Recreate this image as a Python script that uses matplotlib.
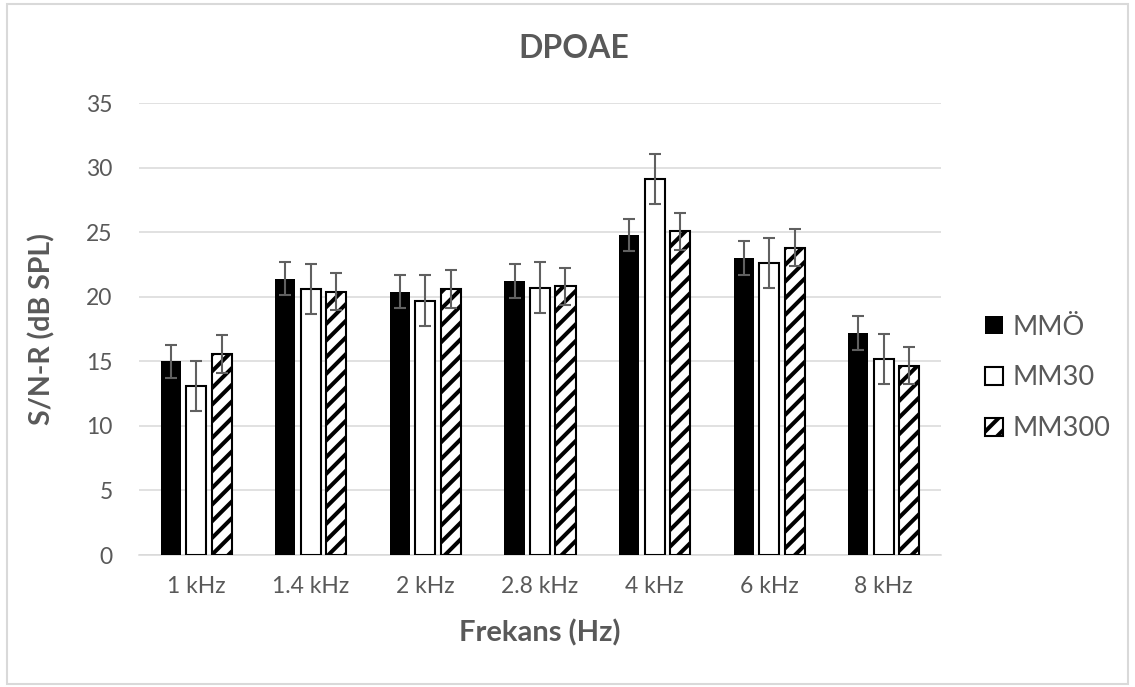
import numpy as np
import matplotlib
matplotlib.use('Agg')
import matplotlib.pyplot as plt
from matplotlib.patches import Rectangle

# --- data
freqs = ['1 kHz', '1.4 kHz', '2 kHz', '2.8 kHz', '4 kHz', '6 kHz', '8 kHz']
mmo = [15.0, 21.4, 20.4, 21.2, 24.8, 23.0, 17.2]
mmo_err = [1.27, 1.3, 1.25, 1.3, 1.25, 1.3, 1.3]
mm30 = [13.1, 20.6, 19.7, 20.7, 29.1, 22.6, 15.2]
mm30_err = [1.95, 1.95, 1.96, 1.95, 1.95, 1.94, 1.94]
mm300 = [15.55, 20.4, 20.6, 20.8, 25.05, 23.8, 14.65]
mm300_err = [1.45, 1.45, 1.5, 1.45, 1.45, 1.43, 1.42]

txt = '#595959'
grid = '#d9d9d9'
ecol = '#606060'

plt.rcParams['font.family'] = ['Lato', 'DejaVu Sans']
plt.rcParams['hatch.linewidth'] = 2.9
plt.rcParams['hatch.color'] = 'black'

fig = plt.figure(figsize=(11.35, 6.87), dpi=100)
ax = fig.add_axes([139/1135, 1-555/687, 802/1135, 452/687])

x = np.arange(len(freqs))
w = 0.175
off = 0.2225
ekw = dict(ecolor=ecol, elinewidth=1.5, capsize=4.5, capthick=1.5)

b1 = ax.bar(x - off, mmo, w, color='black', edgecolor='black', linewidth=0,
            yerr=mmo_err, error_kw=ekw, label='MMÖ', zorder=3)
b2 = ax.bar(x, mm30, w, color='white', edgecolor='black', linewidth=1.5,
            yerr=mm30_err, error_kw=ekw, label='MM30', zorder=3)
b3 = ax.bar(x + off, mm300, w, color='white', edgecolor='black', linewidth=1.5,
            hatch='//', yerr=mm300_err, error_kw=ekw, label='MM300', zorder=3)

ax.set_xlim(-0.5, len(freqs) - 0.5)
ax.set_ylim(0, 35)
ax.set_yticks(np.arange(0, 36, 5))
ax.set_xticks(x)
ax.set_xticklabels(freqs)
ax.yaxis.grid(True, color=grid, linewidth=1.1, zorder=0)
ax.set_axisbelow(True)
for s in ['top', 'right', 'left']:
    ax.spines[s].set_visible(False)
ax.spines['bottom'].set_color(grid)
ax.spines['bottom'].set_linewidth(1.1)
ax.tick_params(axis='both', length=0, labelsize=16.5, labelcolor=txt)
ax.tick_params(axis='y', pad=19)
ax.tick_params(axis='x', pad=15)

fig.text(574/1135, 1-48/687, 'DPOAE', ha='center', va='center',
         fontsize=23, fontweight='bold', color=txt)
fig.text(540/1135, 1-633/687, 'Frekans (Hz)', ha='center', va='center',
         fontsize=21, fontweight='bold', color=txt)
fig.text(42/1135, 1-329/687, 'S/N-R (dB SPL)', ha='center', va='center',
         rotation=90, fontsize=20.5, fontweight='bold', color=txt)

leg = fig.legend(handles=[b1, b2, b3], loc='center left',
                 bbox_to_anchor=(985/1135, 1-378/687), frameon=False,
                 fontsize=19.5, handlelength=0.65, handleheight=0.65,
                 handletextpad=0.35, labelspacing=0.95, borderpad=0,
                 borderaxespad=0)
for t in leg.get_texts():
    t.set_color(txt)

# chart area border
fig.patches.append(Rectangle((7/1135, 1-684/687), 1121/1135, 680/687,
                             transform=fig.transFigure, fill=False,
                             edgecolor=grid, linewidth=1.5))

fig.savefig('out.png', dpi=100)
